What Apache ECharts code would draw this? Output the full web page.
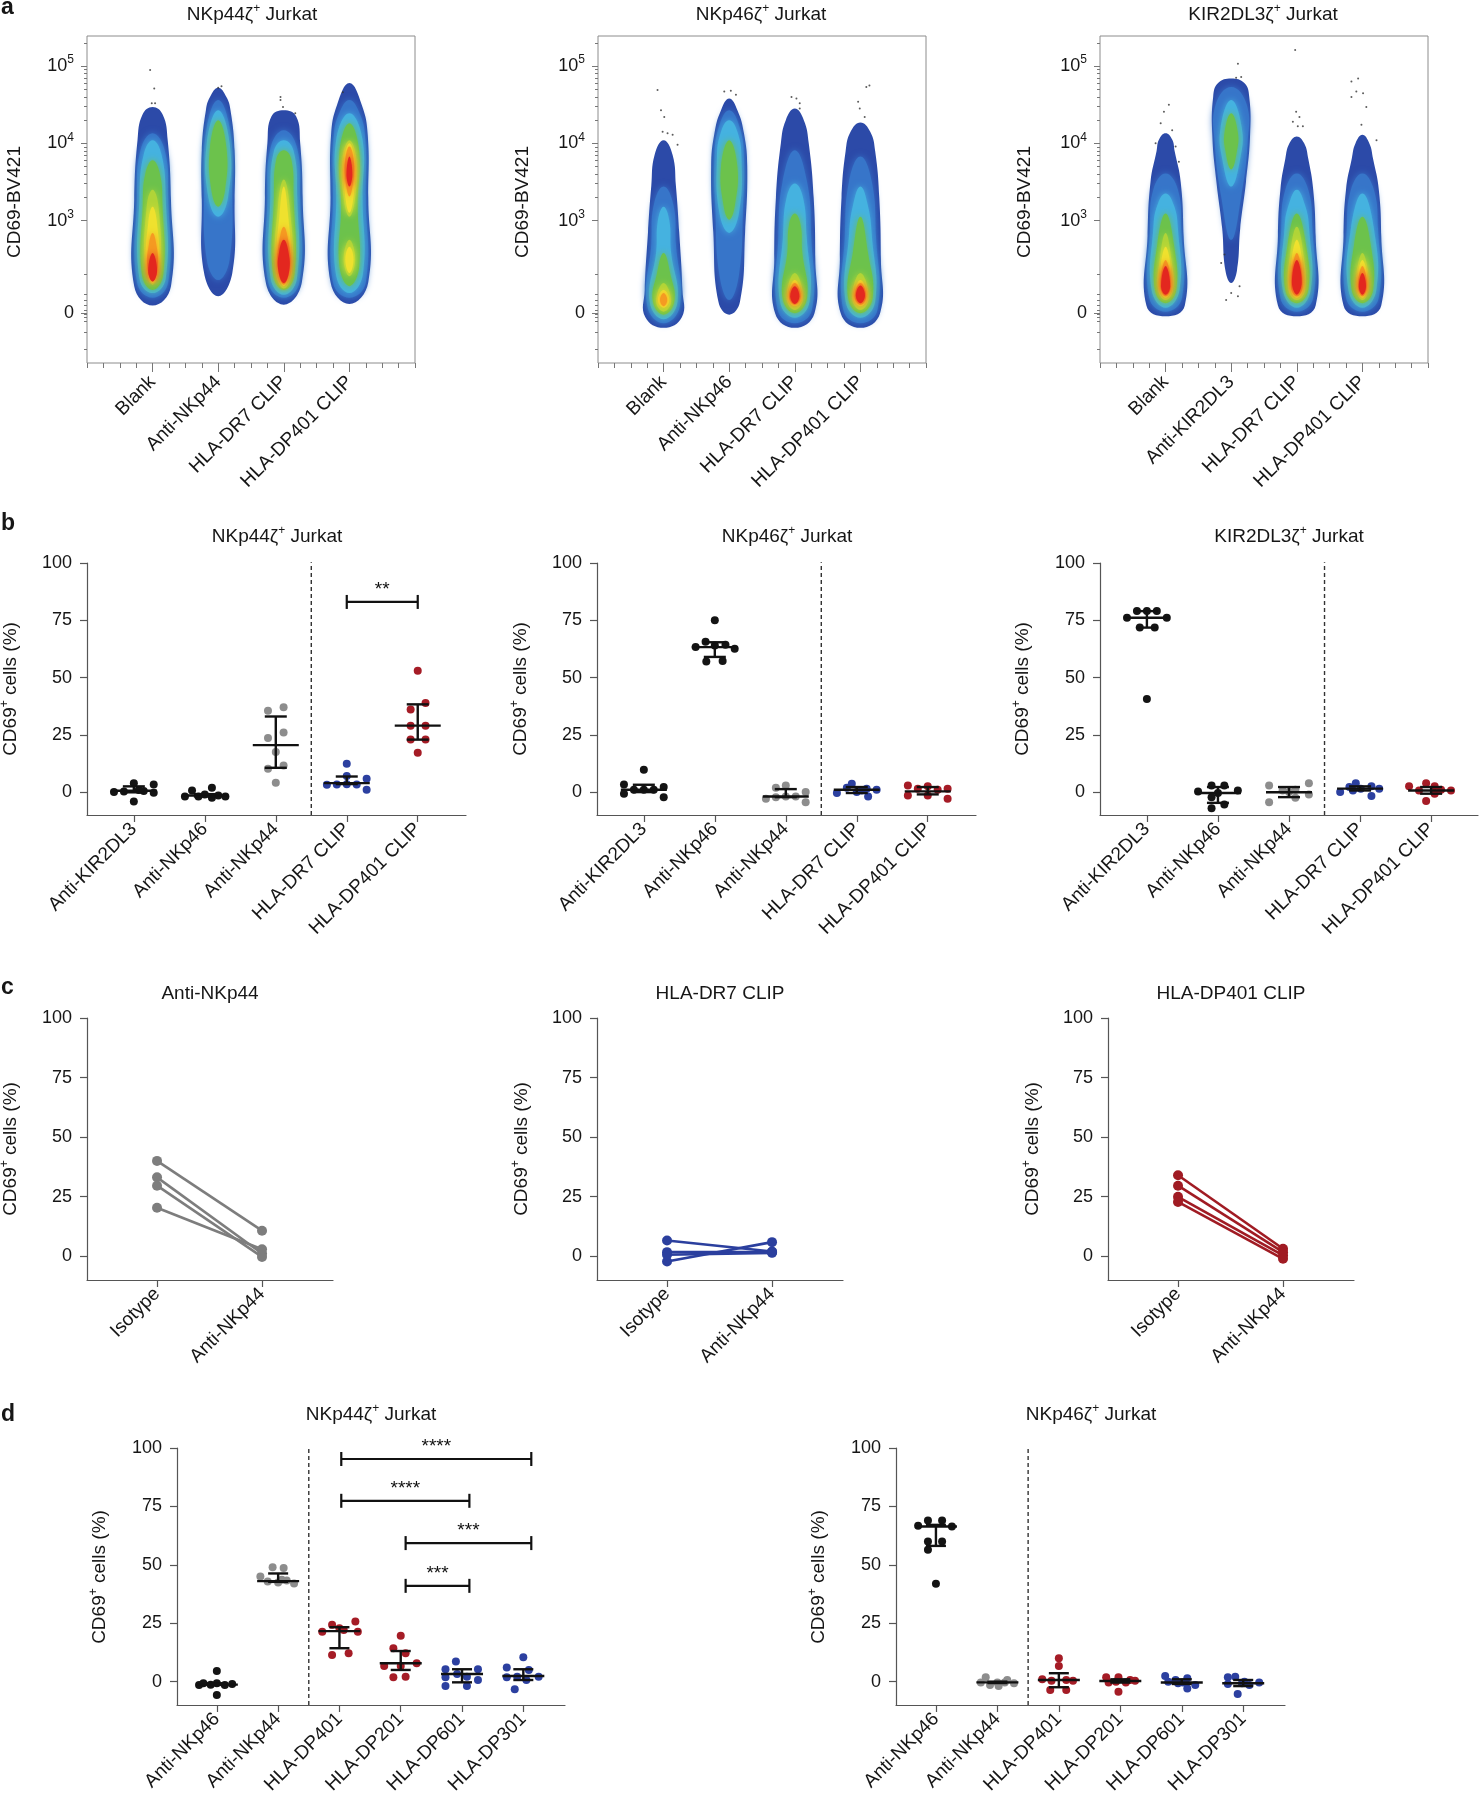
<!DOCTYPE html>
<html><head><meta charset="utf-8">
<script src="https://cdn.jsdelivr.net/npm/echarts@6/dist/echarts.min.js"></script>
<style>html,body{margin:0;padding:0;background:#fff}#c{width:1479px;height:1800px}</style>
</head><body><div id="c"></div>
<script>
// ================= DATA =================
// ---- panel a (flow density plots); y in display units: "0"=1.8, 10^3=3, 10^4=4, 10^5=5
const aLaneNames1 = ['Blank', 'Anti-NKp44', 'HLA-DR7 CLIP', 'HLA-DP401 CLIP'];
const aLaneNames2 = ['Blank', 'Anti-NKp46', 'HLA-DR7 CLIP', 'HLA-DP401 CLIP'];
const aLaneNames3 = ['Blank', 'Anti-KIR2DL3', 'HLA-DR7 CLIP', 'HLA-DP401 CLIP'];
const aLanePos = [4, 8, 12, 16];
const aXMinorTicks = [0,1,2,3,4,5,6,7,8,9,10,11,12,13,14,15,16,17,18,19,20];
const aYTickVals = [1.8, 3, 4, 5];
const aYTickExp = [0, 3, 4, 5];
const aYMinorTicks = [1.33,1.55,1.69,1.75,1.79,1.84,1.9,1.97,2.04,2.3,
  3.301,3.477,3.602,3.699,3.778,3.845,3.903,3.954,
  4.301,4.477,4.602,4.699,4.778,4.845,4.903,4.954,5.301];
const aLevelColors = ['#2c4aa8','#3775c9','#45b2e0','#6cc24c','#b0d438','#efe12e','#f59a22','#e3271f'];
// contour: [lane, level, yBottom, yTop, [[y, halfWidth], ...]]
const aBlobs1 = [
 [0,0,1.90,4.47,[[2.15,1.12],[3.27,1.12],[4.04,0.92],[4.37,0.62]]],
 [0,1,2.00,4.13,[[2.2,0.95],[3.3,0.95],[3.9,0.75]]],
 [0,2,2.06,4.04,[[2.25,0.8],[3.3,0.8],[3.85,0.55]]],
 [0,3,2.10,3.78,[[2.3,0.65],[3.2,0.6],[3.6,0.45]]],
 [0,4,2.17,3.40,[[2.4,0.45],[3.2,0.35]]],
 [0,5,2.19,3.18,[[2.4,0.38],[3.0,0.25]]],
 [0,6,2.21,2.84,[[2.4,0.32],[2.7,0.22]]],
 [0,7,2.21,2.58,[[2.35,0.27]]],
 [1,0,2.02,4.72,[[2.32,0.86],[3.27,1.0],[3.91,1.0],[4.43,0.75],[4.6,0.5]]],
 [1,1,2.23,4.56,[[2.5,0.7],[3.5,0.85],[4.2,0.7]]],
 [1,2,3.05,4.43,[[3.3,0.6],[4.0,0.7]]],
 [1,3,3.18,4.30,[[3.4,0.42],[3.95,0.5]]],
 [2,0,1.91,4.43,[[2.2,1.1],[3.3,1.15],[4.0,1.0],[4.35,0.75]]],
 [2,1,2.00,4.17,[[2.2,0.95],[3.3,1.0],[3.95,0.8]]],
 [2,2,2.04,4.04,[[2.25,0.8],[3.3,0.82],[3.9,0.6]]],
 [2,3,2.10,3.91,[[2.3,0.65],[3.3,0.6],[3.8,0.45]]],
 [2,4,2.12,3.53,[[2.35,0.5],[3.2,0.35]]],
 [2,5,2.15,3.44,[[2.4,0.42],[3.1,0.25]]],
 [2,6,2.17,2.92,[[2.4,0.38],[2.7,0.3]]],
 [2,7,2.19,2.75,[[2.35,0.33],[2.6,0.28]]],
 [3,0,1.92,4.78,[[2.2,1.15],[3.3,1.15],[4.1,1.12],[4.5,0.75]]],
 [3,1,2.00,4.56,[[2.2,1.0],[3.3,1.0],[4.1,0.95],[4.4,0.6]]],
 [3,2,2.06,4.39,[[2.3,0.82],[3.3,0.8],[4.05,0.8]]],
 [3,3,2.15,4.26,[[2.4,0.6],[3.2,0.5],[3.9,0.6]]],
 [3,4,2.28,2.75,[[2.5,0.35]]],
 [3,4,3.05,4.04,[[3.3,0.35],[3.8,0.42]]],
 [3,5,2.32,2.66,[[2.5,0.25]]],
 [3,5,3.10,4.00,[[3.4,0.3],[3.75,0.35]]],
 [3,6,3.31,3.96,[[3.55,0.25],[3.8,0.25]]],
 [3,7,3.44,3.83,[[3.6,0.18]]]
];
const aBlobs2 = [
 [0,0,1.61,4.04,[[1.75,1.12],[2.1,1.15],[2.85,0.95],[3.45,0.75],[3.85,0.55]]],
 [0,1,1.67,3.44,[[1.9,1.0],[2.7,0.75],[3.2,0.6]]],
 [0,2,1.72,3.18,[[1.95,0.85],[2.6,0.45],[3.0,0.35]]],
 [0,3,1.78,2.58,[[1.95,0.65],[2.3,0.42]]],
 [0,4,1.82,2.19,[[1.95,0.45]]],
 [0,5,1.87,2.10,[[1.97,0.35]]],
 [0,6,1.89,2.06,[[1.97,0.22]]],
 [1,0,1.78,4.58,[[1.95,0.66],[2.85,0.97],[3.7,1.1],[4.13,0.9],[4.43,0.5]]],
 [1,1,1.97,4.43,[[2.3,0.6],[3.2,0.85],[3.8,0.9],[4.2,0.65]]],
 [1,2,2.84,4.30,[[3.1,0.6],[3.8,0.75],[4.15,0.5]]],
 [1,3,3.01,4.04,[[3.2,0.35],[3.7,0.5]]],
 [2,0,1.61,4.45,[[1.8,1.2],[2.5,1.25],[3.3,1.15],[4.0,0.85],[4.3,0.55]]],
 [2,1,1.67,3.91,[[1.85,1.05],[2.8,1.0],[3.5,0.75]]],
 [2,2,1.74,3.48,[[1.95,0.9],[2.8,0.72],[3.3,0.5]]],
 [2,3,1.80,3.09,[[2.0,0.75],[2.6,0.45],[2.95,0.35]]],
 [2,4,1.84,2.32,[[2.0,0.5]]],
 [2,5,1.89,2.23,[[2.0,0.42]]],
 [2,6,1.91,2.19,[[2.02,0.35]]],
 [2,7,1.92,2.15,[[2.02,0.28]]],
 [3,0,1.61,4.27,[[1.8,1.2],[2.5,1.25],[3.3,1.15],[3.9,0.9],[4.15,0.6]]],
 [3,1,1.67,3.83,[[1.85,1.05],[2.8,0.95],[3.5,0.7]]],
 [3,2,1.74,3.44,[[1.95,0.9],[2.8,0.7],[3.2,0.45]]],
 [3,3,1.80,3.05,[[2.0,0.75],[2.6,0.45]]],
 [3,4,1.84,2.32,[[2.0,0.5]]],
 [3,5,1.89,2.23,[[2.0,0.42]]],
 [3,6,1.91,2.19,[[2.02,0.35]]],
 [3,7,1.93,2.16,[[2.03,0.28]]]
];
const aBlobs3 = [
 [0,0,1.76,4.13,[[1.9,1.17],[2.8,1.1],[3.5,0.92],[3.9,0.55],[4.05,0.4]]],
 [0,1,1.82,3.61,[[2.0,1.0],[2.9,0.95],[3.4,0.75]]],
 [0,2,1.87,3.35,[[2.1,0.85],[2.9,0.75],[3.2,0.5]]],
 [0,3,1.93,3.09,[[2.1,0.65],[2.7,0.5]]],
 [0,4,1.97,2.84,[[2.1,0.45],[2.5,0.35]]],
 [0,5,2.00,2.66,[[2.15,0.38]]],
 [0,6,2.02,2.49,[[2.15,0.32]]],
 [0,7,2.04,2.41,[[2.15,0.28]]],
 [1,0,2.19,4.84,[[2.35,0.35],[2.9,0.55],[3.5,0.9],[4.1,1.15],[4.6,1.1],[4.78,0.8]]],
 [1,1,2.75,4.73,[[3.3,0.6],[4.0,1.0],[4.5,0.95]]],
 [1,2,3.44,4.56,[[3.8,0.55],[4.2,0.65]]],
 [1,3,3.66,4.39,[[3.9,0.35],[4.15,0.4]]],
 [2,0,1.76,4.09,[[1.9,1.15],[2.8,1.15],[3.4,1.0],[3.8,0.7],[4.0,0.45]]],
 [2,1,1.82,3.61,[[2.0,1.0],[2.9,0.95],[3.4,0.7]]],
 [2,2,1.87,3.40,[[2.1,0.85],[2.9,0.75],[3.2,0.5]]],
 [2,3,1.93,3.09,[[2.1,0.7],[2.7,0.55]]],
 [2,4,1.97,2.92,[[2.1,0.5],[2.6,0.38]]],
 [2,5,2.00,2.75,[[2.15,0.42]]],
 [2,6,2.02,2.58,[[2.15,0.35]]],
 [2,7,2.04,2.49,[[2.2,0.3]]],
 [3,0,1.76,4.11,[[1.9,1.15],[2.8,1.15],[3.4,1.0],[3.8,0.65],[4.0,0.42]]],
 [3,1,1.82,3.61,[[2.0,1.0],[2.9,0.95],[3.4,0.7]]],
 [3,2,1.87,3.35,[[2.1,0.85],[2.9,0.7]]],
 [3,3,1.93,3.05,[[2.1,0.65],[2.7,0.5]]],
 [3,4,1.97,2.58,[[2.15,0.4]]],
 [3,5,2.00,2.49,[[2.15,0.33]]],
 [3,6,2.02,2.41,[[2.15,0.27]]],
 [3,7,2.04,2.32,[[2.15,0.22]]]
];
const aDots1 = [[3.85,4.95],[4.1,4.71],[3.95,4.52],[4.15,4.52],[8.0,4.72],[8.2,4.74],[11.8,4.6],[11.8,4.56],[11.95,4.47],[12.7,4.39],[15.6,4.66]];
const aDots2 = [[3.63,4.69],[3.84,4.43],[4.04,4.34],[3.94,4.15],[4.55,4.11],[4.85,3.98],[4.24,4.13],[7.7,4.67],[8.1,4.68],[8.41,4.63],
  [11.8,4.6],[12.1,4.58],[12.3,4.52],[12.3,4.45],[15.86,4.54],[15.96,4.45],[16.26,4.34],[16.36,4.73],[16.55,4.75]];
const aDots3 = [[3.9,4.41],[4.2,4.5],[3.7,4.26],[4.4,4.17],[3.39,4.0],[4.61,3.96],[4.81,3.76],
  [8.41,5.03],[8.3,4.85],[8.61,4.86],[7.59,2.56],[7.39,2.45],[7.69,1.97],[8.41,2.02],[8.51,2.15],[8.0,2.06],
  [11.9,5.21],[11.96,4.41],[12.16,4.34],[11.76,4.28],[12.37,4.22],[12.06,4.22],
  [15.33,4.8],[15.74,4.84],[15.63,4.67],[16.04,4.65],[15.33,4.6],[16.24,4.47],[15.94,4.24],[16.86,4.04]];

// ---- shared y ticks for % panels
const pctTicks = [0, 25, 50, 75, 100];

// ---- panel b: points are [offset from category, value]
const bCats = ['Anti-KIR2DL3', 'Anti-NKp46', 'Anti-NKp44', 'HLA-DR7 CLIP', 'HLA-DP401 CLIP'];
const b1Points = [
 [[-0.28,0],[-0.14,0.3],[0,3.9],[0.14,0.5],[0.28,3.3],[0.28,-0.3],[0,-4.1],[0.07,0.9]],
 [[-0.28,-1.9],[-0.18,0.7],[-0.09,-1.9],[0,-1.0],[0.1,1.9],[0.1,-2.5],[0.19,-1.5],[0.29,-1.9]],
 [[-0.11,35.5],[0.11,37],[0.11,26],[-0.11,23.6],[0,17.5],[-0.11,10.2],[0.11,11.6],[0,4.1]],
 [[0,12.4],[0,7],[-0.28,3.2],[-0.14,3.3],[0.14,3.3],[0.28,5.8],[0.28,1],[0,3.4]],
 [[0,53],[0.11,38.9],[-0.1,36],[-0.1,29],[0.11,29],[-0.1,23],[0.11,23],[0,17.2]]
];
const b1Stats = [[0.6,-0.1,2.5],[-1.5,-1.9,-0.9],[20.5,10.6,33],[3.9,3.5,6.8],[29,22.9,38.3]];
const b1Brackets = [[3, 4, 83, '**']];
const b2Points = [
 [[0,9.8],[-0.28,3.3],[-0.28,-0.7],[-0.14,1.0],[0,1.0],[0.14,1.0],[0.28,2.2],[0.28,-2.2]],
 [[0,75],[-0.13,65.6],[-0.27,63.3],[0.15,64.3],[0.28,62.6],[-0.12,57],[0.11,57.2],[0,64]],
 [[-0.14,1.9],[0,2.9],[-0.28,-2.9],[-0.14,-2.2],[0,-1.9],[0.14,-1.9],[0.28,0],[0.28,-4.4]],
 [[-0.28,-0.4],[-0.14,1.9],[-0.07,3.6],[0,0],[0.14,1.5],[0.16,-1.9],[0.28,1.0],[0.07,0.7]],
 [[-0.28,2.9],[-0.28,-1.5],[-0.14,1.5],[0,2.5],[0,-1.5],[0.14,1.0],[0.28,1.5],[0.28,-2.9]]
];
const b2Stats = [[1.0,0,3.2],[63.3,59,65.4],[-1.9,-2.2,1.3],[1.0,-0.4,2.2],[0.3,-1.0,2.2]];
const b3Points = [
 [[-0.28,76.1],[-0.14,79],[0,79],[0.14,79],[0.28,76.1],[-0.1,71.8],[0.11,71.8],[0,40.6]],
 [[-0.28,0.3],[-0.09,2.9],[0.09,2.9],[0.28,0.7],[-0.09,-2.2],[0.09,-5.4],[-0.09,-7],[0,-0.4]],
 [[-0.28,2.9],[-0.28,-4.4],[-0.09,0.7],[0.09,-2.5],[0.28,3.9],[0.28,-1],[0,0],[0.09,1.0]],
 [[-0.28,0],[-0.15,2.2],[-0.06,3.9],[0.01,1.5],[0.16,2.5],[0.16,-1.7],[0.27,1.5],[-0.1,0.7]],
 [[-0.31,2.5],[-0.17,0.7],[-0.07,3.9],[0.05,2.5],[-0.07,-3.9],[0.14,1.0],[0.28,0.7],[0.05,-0.7]]
];
const b3Stats = [[76.1,71.8,79],[-0.4,-4.7,2.2],[-0.1,-2.2,2.2],[1.5,0.7,2.5],[0.7,-0.7,2.2]];
const bDividerLine = [[2.5, -10], [2.5, 102.6]];

// ---- panel c: paired [Isotype, Anti-NKp44]
const cCats = ['Isotype', 'Anti-NKp44'];
const c1Pairs = [[40,10.7],[33.1,1.1],[29.6,-0.3],[20.3,2.9]];
const c2Pairs = [[6.6,2.0],[1.7,1.7],[-2.2,5.9],[0.6,1.4]];
const c3Pairs = [[34,3.1],[29.6,1.7],[24.9,0.3],[22.8,-1.1]];

// ---- panel d
const dCats = ['Anti-NKp46', 'Anti-NKp44', 'HLA-DP401', 'HLA-DP201', 'HLA-DP601', 'HLA-DP301'];
const d1Points = [
 [[0,4.6],[-0.22,-0.7],[0,-0.7],[0.25,-1.0],[-0.29,-1.4],[0.13,-1.4],[-0.1,-1.3],[0,-5.7]],
 [[-0.09,49],[0.09,48.6],[-0.29,45],[-0.17,42.9],[0.06,43.6],[0.26,42],[0,42.4],[0.14,43.3]],
 [[-0.12,24.3],[0.26,25.7],[-0.28,21.4],[0.07,22.1],[0.3,21.4],[-0.12,11.4],[0.15,12.1],[0,22.9]],
 [[0,19.6],[-0.12,14.3],[0.08,12.1],[-0.27,6.7],[0.26,7.9],[0,6.7],[-0.12,1.9],[0.08,2.1]],
 [[-0.1,8.6],[-0.27,5.3],[0.26,5.3],[-0.08,3.3],[-0.27,1.9],[0.08,2.1],[0.26,0.7],[-0.27,-1.9],[0.08,-1.9]],
 [[0,10.4],[-0.27,6.1],[0.09,5],[-0.1,2.1],[0.25,2.1],[-0.27,1.9],[0.05,0.7],[-0.14,-3.3]]
];
const d1Stats = [[-1.3,-1.4,-0.7],[43,42.7,46.3],[21.6,14.3,23.3],[7.9,5,13.1],[3.3,-0.3,5.3],[2.4,0.7,5.3]];
const d1Brackets = [[2.03,5.13,95.3,'****'],[2.03,4.12,77.4,'****'],[3.08,5.13,59.3,'***'],[3.08,4.12,41,'***']];
const d2Points = [
 [[-0.13,69],[0.1,69],[-0.29,66.7],[0.26,66.4],[-0.13,60],[0.1,60],[-0.13,56.4],[0,41.9]],
 [[-0.19,1.9],[-0.27,-0.4],[0,-0.4],[0.12,-0.4],[0.27,-0.7],[-0.12,-1.4],[0.02,-1.9],[0.16,0.7]],
 [[0,10],[0,6.7],[-0.27,1.0],[0.23,0.4],[-0.14,-3.6],[0.12,-3.6],[-0.12,0.4],[0.12,0.7]],
 [[-0.23,1.9],[-0.03,1.9],[0.16,0.7],[0.24,0.4],[-0.03,-4.3],[-0.19,-0.4],[0.09,-0.4],[-0.07,0]],
 [[-0.27,2.4],[-0.1,0.7],[0.09,1.4],[0.22,-1.4],[0.09,-2.9],[-0.06,-0.7],[-0.22,0],[0.02,-0.4]],
 [[-0.25,1.9],[-0.13,2.1],[0.02,0],[0.26,-0.4],[-0.09,-5.3],[-0.25,-1.0],[0.1,-1.4],[-0.02,-0.7]]
];
const d2Stats = [[66.4,58.1,67.1],[-0.3,-0.6,0],[0.7,-2.4,3.6],[0.3,-0.4,1.0],[-0.4,-1.0,1.0],[-0.7,-1.9,0.7]];
const dDividerLine = [[1.5, -10], [1.5, 104]];

// ================= STYLE / BUILD =================
const FONT = '"Liberation Sans", Arial, Helvetica, sans-serif';
const TXT = '#161616';
const C_BLACK = '#141414', C_GRAY = '#8d8d8d', C_BLUE = '#2c40a0', C_RED = '#a51c26';
const bColors = [C_BLACK, C_BLACK, C_GRAY, C_BLUE, C_RED];
const dColors = [C_BLACK, C_GRAY, C_RED, C_RED, C_BLUE, C_BLUE];
const CAT_FS = 19, TICK_FS = 18, TITLE_FS = 19, YT_FS = 19;

const option = { animation: false, backgroundColor: '#fff', grid: [], xAxis: [], yAxis: [], series: [], graphic: [] };
function addGrid(g) { g.outerBoundsMode = 'none'; g.containLabel = false; option.grid.push(g); return option.grid.length - 1; }
function addX(a) { option.xAxis.push(a); return option.xAxis.length - 1; }
function addY(a) { option.yAxis.push(a); return option.yAxis.length - 1; }

function blobRender(blobs) {
  return function (params, api) {
    const b = blobs[params.dataIndex];
    const cx = aLanePos[b[0]];
    const prof = b[4];
    const pts = [api.coord([cx, b[2]])];
    for (let i = 0; i < prof.length; i++) pts.push(api.coord([cx - prof[i][1], prof[i][0]]));
    pts.push(api.coord([cx, b[3]]));
    for (let i = prof.length - 1; i >= 0; i--) pts.push(api.coord([cx + prof[i][1], prof[i][0]]));
    const col = aLevelColors[b[1]];
    return { type: 'polygon', shape: { points: pts, smooth: 0.45 },
      style: { fill: col, shadowBlur: b[1] > 0 ? 7 : 0, shadowColor: col } };
  };
}

function buildA(left, laneNames, blobs, dots) {
  const g = addGrid({ left: left, top: 36, width: 328, height: 327, show: true, borderColor: '#8c8c8c', borderWidth: 1, backgroundColor: 'rgba(0,0,0,0)' });
  const tickStyle = { color: '#777', width: 1 };
  const x0 = addX({ gridIndex: g, type: 'value', position: 'bottom', min: 0, max: 20, splitLine: { show: false },
    axisLine: { show: false }, axisTick: { show: true, customValues: aXMinorTicks, length: 5, lineStyle: tickStyle }, axisLabel: { show: false } });
  addX({ gridIndex: g, type: 'value', position: 'bottom', min: 0, max: 20, splitLine: { show: false },
    axisLine: { show: false }, axisTick: { show: true, customValues: aLanePos, length: 9, lineStyle: tickStyle },
    axisLabel: { show: true, customValues: aLanePos, rotate: 45, margin: 16, fontSize: CAT_FS, fontFamily: FONT, color: TXT,
      formatter: function (v) { return laneNames[aLanePos.indexOf(Math.round(v))]; } } });
  const y0 = addY({ gridIndex: g, type: 'value', position: 'left', min: 1.155, max: 5.39, splitLine: { show: false },
    axisLine: { show: false }, axisTick: { show: true, customValues: aYTickVals, length: 6, lineStyle: tickStyle },
    axisLabel: { show: true, customValues: aYTickVals, margin: 13,
      formatter: function (v) {
        const i = aYTickVals.findIndex(function (t) { return Math.abs(t - v) < 1e-6; });
        return aYTickExp[i] === 0 ? '{b|0}' : '{b|10}{s|' + aYTickExp[i] + '}';
      },
      rich: { b: { fontSize: 18, fontFamily: FONT, color: TXT, lineHeight: 24 },
              s: { fontSize: 12, fontFamily: FONT, color: TXT, verticalAlign: 'top' } } } });
  addY({ gridIndex: g, type: 'value', position: 'left', min: 1.155, max: 5.39, splitLine: { show: false },
    axisLine: { show: false }, axisTick: { show: true, customValues: aYMinorTicks, length: 3, lineStyle: tickStyle }, axisLabel: { show: false } });
  option.series.push({ type: 'custom', xAxisIndex: x0, yAxisIndex: y0, renderItem: blobRender(blobs), clip: true, z: 2,
    data: blobs.map(function (b) { return [aLanePos[b[0]], b[2]]; }) });
  option.series.push({ type: 'scatter', xAxisIndex: x0, yAxisIndex: y0, data: dots, symbolSize: 2, itemStyle: { color: '#333' }, z: 3, silent: true });
}

function errRender(hw, cw, lw) {
  return function (params, api) {
    const x = api.value(0);
    const pm = api.coord([x, api.value(1)]), p1 = api.coord([x, api.value(2)]), p3 = api.coord([x, api.value(3)]);
    const st = { stroke: '#111', lineWidth: lw };
    return { type: 'group', children: [
      { type: 'line', shape: { x1: pm[0] - hw, y1: pm[1], x2: pm[0] + hw, y2: pm[1] }, style: st },
      { type: 'line', shape: { x1: p1[0], y1: p1[1], x2: p3[0], y2: p3[1] }, style: st },
      { type: 'line', shape: { x1: p1[0] - cw, y1: p1[1], x2: p1[0] + cw, y2: p1[1] }, style: st },
      { type: 'line', shape: { x1: p3[0] - cw, y1: p3[1], x2: p3[0] + cw, y2: p3[1] }, style: st }
    ] };
  };
}
function brRender(brs) {
  return function (params, api) {
    const b = brs[params.dataIndex];
    const a = api.coord([b[0], b[2]]), c = api.coord([b[1], b[2]]);
    const st = { stroke: '#111', lineWidth: 2.2 };
    return { type: 'group', children: [
      { type: 'line', shape: { x1: a[0], y1: a[1], x2: c[0], y2: c[1] }, style: st },
      { type: 'line', shape: { x1: a[0], y1: a[1] - 7, x2: a[0], y2: a[1] + 7 }, style: st },
      { type: 'line', shape: { x1: c[0], y1: c[1] - 7, x2: c[0], y2: c[1] + 7 }, style: st },
      { type: 'text', x: (a[0] + c[0]) / 2, y: a[1] - 3,
        style: { text: b[3], fontSize: 19, fontFamily: FONT, fill: '#111', align: 'center', verticalAlign: 'bottom', textAlign: 'center', textVerticalAlign: 'bottom' } }
    ] };
  };
}

function buildAxes(o) {
  const g = addGrid({ left: o.left, top: o.top, width: o.width, height: o.height });
  const ls = { color: '#555', width: 1.2 };
  const catIdx = o.cats.map(function (c, i) { return i; });
  const xi = addX({ gridIndex: g, type: 'value', min: o.xmin, max: o.xmax, splitLine: { show: false },
    axisLine: { show: true, onZero: false, lineStyle: ls },
    axisTick: { show: true, customValues: catIdx, length: 7, lineStyle: ls },
    axisLabel: { show: true, customValues: catIdx, rotate: 45, margin: 11, fontSize: CAT_FS, fontFamily: FONT, color: TXT,
      formatter: function (v) { return o.cats[Math.round(v)]; } } });
  const yi = addY({ gridIndex: g, type: 'value', min: -10, max: 100, splitLine: { show: false },
    axisLine: { show: true, onZero: false, lineStyle: ls },
    axisTick: { show: true, customValues: pctTicks, length: 7, lineStyle: ls },
    axisLabel: { show: true, customValues: pctTicks, margin: 15, fontSize: TICK_FS, fontFamily: FONT, color: TXT } });
  return [xi, yi];
}

function buildStat(o) {
  const ax = buildAxes(o);
  const xi = ax[0], yi = ax[1];
  if (o.divider) option.series.push({ type: 'line', xAxisIndex: xi, yAxisIndex: yi, data: o.divider, symbol: 'none', silent: true,
    lineStyle: { color: '#333', width: 1.4, type: [4, 3] }, z: 1 });
  o.points.forEach(function (pts, ci) {
    option.series.push({ type: 'scatter', xAxisIndex: xi, yAxisIndex: yi, symbolSize: 8, z: 2, silent: true,
      itemStyle: { color: o.colors[ci], opacity: 1 },
      data: pts.map(function (p) { return [ci + p[0], p[1]]; }) });
  });
  option.series.push({ type: 'custom', xAxisIndex: xi, yAxisIndex: yi, z: 3, silent: true, renderItem: errRender(o.hw, o.cw, 2.4),
    data: o.stats.map(function (s, i) { return [i, s[0], s[1], s[2]]; }) });
  if (o.brackets) option.series.push({ type: 'custom', xAxisIndex: xi, yAxisIndex: yi, z: 3, silent: true, renderItem: brRender(o.brackets),
    data: o.brackets.map(function (b) { return [b[0], b[2]]; }) });
}

function buildPairs(o) {
  const ax = buildAxes(o);
  o.pairs.forEach(function (p) {
    option.series.push({ type: 'line', xAxisIndex: ax[0], yAxisIndex: ax[1], data: [[0, p[0]], [1, p[1]]],
      symbol: 'circle', symbolSize: 10, showSymbol: true, silent: true,
      lineStyle: { color: o.color, width: 2.6 }, itemStyle: { color: o.color, borderWidth: 0 } });
  });
}

// ---- build panels
buildA(87, aLaneNames1, aBlobs1, aDots1);
buildA(598, aLaneNames2, aBlobs2, aDots2);
buildA(1100, aLaneNames3, aBlobs3, aDots3);

const bCommon = { top: 563, height: 252, width: 379, xmin: -0.66, xmax: 4.68, cats: bCats, colors: bColors, divider: bDividerLine, hw: 23, cw: 11 };
buildStat(Object.assign({}, bCommon, { left: 87, points: b1Points, stats: b1Stats, brackets: b1Brackets }));
buildStat(Object.assign({}, bCommon, { left: 597, points: b2Points, stats: b2Stats }));
buildStat(Object.assign({}, bCommon, { left: 1100, width: 378, xmax: 4.66, points: b3Points, stats: b3Stats }));

const cCommon = { top: 1018, height: 262, width: 246, xmin: -0.667, xmax: 1.676, cats: cCats };
buildPairs(Object.assign({}, cCommon, { left: 87, pairs: c1Pairs, color: '#7d7d7d' }));
buildPairs(Object.assign({}, cCommon, { left: 597, pairs: c2Pairs, color: '#2b3f9e' }));
buildPairs(Object.assign({}, cCommon, { left: 1108, pairs: c3Pairs, color: '#a01b23' }));

const dCommon = { top: 1448, height: 257, xmin: -0.65, xmax: 5.68, cats: dCats, colors: dColors, divider: dDividerLine, hw: 21, cw: 10 };
buildStat(Object.assign({}, dCommon, { left: 177, width: 388, points: d1Points, stats: d1Stats, brackets: d1Brackets }));
buildStat(Object.assign({}, dCommon, { left: 896, width: 389, points: d2Points, stats: d2Stats }));

// ---- texts
function txt(x, y, text, size, opts) {
  opts = opts || {};
  option.graphic.push({ type: 'text', x: x, y: y, rotation: opts.rot || 0, silent: true,
    style: { text: text, fontSize: size, fontFamily: FONT, fontWeight: opts.bold ? 'bold' : 'normal', fill: TXT,
      align: opts.align || 'center', textAlign: opts.align || 'center', verticalAlign: 'middle', textVerticalAlign: 'middle',
      rich: { t: { fontSize: size, fontFamily: FONT, fill: TXT, lineHeight: size + 6 },
              s: { fontSize: Math.round(size * 0.62), fontFamily: FONT, fill: TXT, verticalAlign: 'top' } } } });
}
// panel letters
txt(1, 8, 'a', 23, { bold: true, align: 'left' });
txt(1, 524, 'b', 23, { bold: true, align: 'left' });
txt(1, 988, 'c', 23, { bold: true, align: 'left' });
txt(1, 1415, 'd', 23, { bold: true, align: 'left' });
// titles
const jur = function (n) { return '{t|' + n + '}{s|+}{t| Jurkat}'; };
txt(252, 15, jur('NKp44ζ'), TITLE_FS); txt(761, 15, jur('NKp46ζ'), TITLE_FS); txt(1263, 15, jur('KIR2DL3ζ'), TITLE_FS);
txt(277, 537, jur('NKp44ζ'), TITLE_FS); txt(787, 537, jur('NKp46ζ'), TITLE_FS); txt(1289, 537, jur('KIR2DL3ζ'), TITLE_FS);
txt(210, 994, 'Anti-NKp44', TITLE_FS); txt(720, 994, 'HLA-DR7 CLIP', TITLE_FS); txt(1231, 994, 'HLA-DP401 CLIP', TITLE_FS);
txt(371, 1415, jur('NKp44ζ'), TITLE_FS); txt(1091, 1415, jur('NKp46ζ'), TITLE_FS);
// y titles
const R = Math.PI / 2;
const cdTitle = '{t|CD69}{s|+}{t| cells (%)}';
txt(15, 202, 'CD69-BV421', YT_FS, { rot: R }); txt(523, 202, 'CD69-BV421', YT_FS, { rot: R }); txt(1025, 202, 'CD69-BV421', YT_FS, { rot: R });
txt(11, 689, cdTitle, YT_FS, { rot: R }); txt(521, 689, cdTitle, YT_FS, { rot: R }); txt(1023, 689, cdTitle, YT_FS, { rot: R });
txt(11, 1149, cdTitle, YT_FS, { rot: R }); txt(522, 1149, cdTitle, YT_FS, { rot: R }); txt(1033, 1149, cdTitle, YT_FS, { rot: R });
txt(100, 1577, cdTitle, YT_FS, { rot: R }); txt(819, 1577, cdTitle, YT_FS, { rot: R });

const chart = echarts.init(document.getElementById('c'), null, { renderer: 'canvas', width: 1479, height: 1800 });
chart.setOption(option);
</script></body></html>
